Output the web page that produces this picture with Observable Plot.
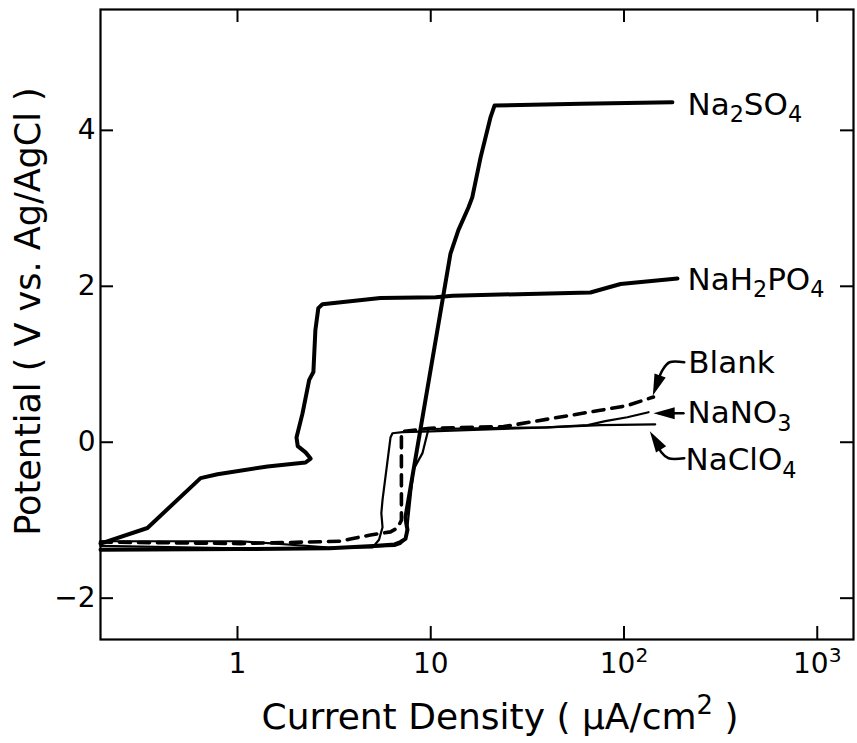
<!DOCTYPE html>
<html>
<head>
<meta charset="utf-8">
<script src="https://cdn.jsdelivr.net/npm/d3@7"></script>
<script src="https://cdn.jsdelivr.net/npm/@observablehq/plot@0.6"></script>
<style>
  body { margin: 0; background: #fff; }
  #chart svg { display: block; }
</style>
</head>
<body>
<div id="chart"></div>
<script>
// Anodic polarization curves: current density (µA/cm²) vs potential (V vs. Ag/AgCl)

const na2so4Current   = [0.1955, 1.0, 3.0, 5.05, 6.5, 6.97, 7.4, 7.58, 7.48, 7.40, 12.65, 13.9, 15.67, 16.4, 18.1, 20.4, 21.4, 60, 178];
const na2so4Potential = [-1.38, -1.37, -1.36, -1.33, -1.31, -1.28, -1.24, -1.12, -1.05, -0.96, 2.42, 2.72, 3.01, 3.14, 3.65, 4.17, 4.32, 4.34, 4.36];

const nah2po4Current   = [0.1955, 0.342, 0.644, 0.788, 1.43, 2.25, 2.39, 2.25, 2.05, 2.02, 2.17, 2.35, 2.47, 2.53, 2.62, 2.75, 5.49, 10.6, 13.0, 67, 96, 189];
const nah2po4Potential = [-1.30, -1.10, -0.46, -0.41, -0.31, -0.26, -0.21, -0.13, -0.05, 0.06, 0.37, 0.80, 0.90, 1.44, 1.72, 1.77, 1.85, 1.86, 1.88, 1.92, 2.03, 2.10];

const blankCurrent   = [0.1955, 1.04, 3.41, 3.84, 4.88, 6.19, 6.73, 7.05, 7.05, 7.3, 9.96, 23.8, 32.8, 48.6, 75.5, 104, 142];
const blankPotential = [-1.28, -1.30, -1.27, -1.24, -1.19, -1.15, -1.10, -1.0, 0.13, 0.14, 0.18, 0.20, 0.26, 0.33, 0.41, 0.47, 0.58];

const nano3Current   = [0.1955, 1.0, 3.0, 6.5, 7.0, 7.4, 7.6, 8.14, 9.06, 9.73, 40, 65, 80, 104, 134];
const nano3Potential = [-1.33, -1.36, -1.36, -1.33, -1.30, -1.24, -1.05, -0.35, -0.14, 0.17, 0.19, 0.22, 0.27, 0.32, 0.385];

const naclo4Current   = [0.1955, 1.04, 3.0, 5.0, 5.4, 5.63, 5.55, 5.63, 6.19, 6.34, 7.14, 9.96, 40, 75.5, 145];
const naclo4Potential = [-1.27, -1.27, -1.35, -1.35, -1.25, -1.09, -0.91, -0.74, 0.06, 0.115, 0.13, 0.14, 0.19, 0.22, 0.23];

// Curve labels and their anchor points
const labelNames     = ["Na₂SO₄", "NaH₂PO₄", "Blank", "NaNO₃", "NaClO₄"];
const labelCurrent   = [213, 213, 215, 213, 208];
const labelPotential = [4.33, 2.08, 1.01, 0.37, -0.23];

// Leader lines from labels to curve ends
const blankLeaderCurrent    = [205, 172, 158, 149, 145];
const blankLeaderPotential  = [1.026, 1.026, 0.923, 0.769, 0.68];
const nano3LeaderCurrent    = [203, 152];
const nano3LeaderPotential  = [0.372, 0.372];
const naclo4LeaderCurrent   = [205, 170, 156, 146, 142];
const naclo4LeaderPotential = [-0.205, -0.205, -0.128, 0.026, 0.07];

const tipCurrent   = [141, 142, 136];
const tipPotential = [0.60, 0.372, 0.14];
const tipAngle     = [200, -90, -32];

// Axis ticks
const xTicks = [1, 10, 100, 1000];
const xTickLabels = ["1", "10", "10²", "10³"];
const yTicks = [-2, 0, 2, 4];

const rows = (xs, ys) => xs.map((x, i) => ({x, y: ys[i]}));

const W = 857, H = 743;
const mL = 100, mR = 4, mT = 9, mB = 104;
const plotW = W - mL - mR, plotH = H - mT - mB;
const tickLen = 13;

// Filled, slightly elongated arrowhead with its tip at the origin
const arrowHead = {
  draw(context, size) {
    const s = Math.sqrt(size);
    context.moveTo(0, 0);
    context.lineTo(0.42 * s, 1.5 * s);
    context.lineTo(-0.42 * s, 1.5 * s);
    context.closePath();
  }
};

const chart = Plot.plot({
  width: W,
  height: H,
  marginLeft: mL,
  marginRight: mR,
  marginTop: mT,
  marginBottom: mB,
  style: {fontFamily: "DejaVu Sans", background: "#fff", color: "#000"},
  x: {type: "log", domain: [0.1955, 1540]},
  y: {domain: [-2.53, 5.55]},
  marks: [
    Plot.frame({strokeWidth: 2.2}),
    // inward ticks on all four sides
    Plot.tickX(xTicks, {x: d => d, insetTop: plotH - tickLen, strokeWidth: 2}),
    Plot.tickX(xTicks, {x: d => d, insetBottom: plotH - tickLen, strokeWidth: 2}),
    Plot.tickY(yTicks, {y: d => d, insetRight: plotW - tickLen, strokeWidth: 2}),
    Plot.tickY(yTicks, {y: d => d, insetLeft: plotW - tickLen, strokeWidth: 2}),
    Plot.axisX({ticks: xTicks, tickSize: 0, tickPadding: 14, fontSize: 28,
      tickFormat: d => xTickLabels[xTicks.indexOf(d)], label: null}),
    Plot.axisY({ticks: yTicks, tickSize: 0, tickPadding: 5, fontSize: 28, label: null}),
    // axis titles
    Plot.text(["Current Density ( µA/cm² )"], {frameAnchor: "bottom", dx: 23, dy: 78, fontSize: 36, lineAnchor: "middle", textAnchor: "middle"}),
    Plot.text(["Potential ( V vs. Ag/AgCl )"], {frameAnchor: "left", rotate: -90, dx: -72, dy: -13, fontSize: 35, lineAnchor: "middle", textAnchor: "middle"}),
    // curves
    Plot.line(rows(na2so4Current, na2so4Potential), {x: "x", y: "y", stroke: "#000", strokeWidth: 4, strokeLinejoin: "round"}),
    Plot.line(rows(nah2po4Current, nah2po4Potential), {x: "x", y: "y", stroke: "#000", strokeWidth: 4, strokeLinejoin: "round"}),
    Plot.line(rows(blankCurrent, blankPotential), {x: "x", y: "y", stroke: "#000", strokeWidth: 3.6, strokeDasharray: "11,8"}),
    Plot.line(rows(nano3Current, nano3Potential), {x: "x", y: "y", stroke: "#000", strokeWidth: 2.2}),
    Plot.line(rows(naclo4Current, naclo4Potential), {x: "x", y: "y", stroke: "#000", strokeWidth: 2.2}),
    // labels with leaders
    Plot.line(rows(blankLeaderCurrent, blankLeaderPotential), {x: "x", y: "y", stroke: "#000", strokeWidth: 2.5, curve: "catmull-rom"}),
    Plot.line(rows(nano3LeaderCurrent, nano3LeaderPotential), {x: "x", y: "y", stroke: "#000", strokeWidth: 2.5}),
    Plot.line(rows(naclo4LeaderCurrent, naclo4LeaderPotential), {x: "x", y: "y", stroke: "#000", strokeWidth: 2.5, curve: "catmull-rom"}),
    Plot.dot(tipCurrent.map((x, i) => ({x, y: tipPotential[i], a: tipAngle[i]})),
      {x: "x", y: "y", rotate: "a", symbol: arrowHead, r: 8, fill: "#000", stroke: "none"}),
    Plot.text(labelNames.map((t, i) => ({t, x: labelCurrent[i], y: labelPotential[i]})),
      {x: "x", y: "y", text: "t", textAnchor: "start", lineAnchor: "middle", fontSize: 31})
  ]
});

document.getElementById("chart").append(chart);

// Typeset sub- and superscript digits as shifted, smaller tspans
const subDigits = {"₂": "2", "₃": "3", "₄": "4"};
const supDigits = {"²": "2", "³": "3"};
d3.select(chart).selectAll("text").each(function() {
  const s = this.textContent;
  const chars = [...s];
  if (!chars.some(c => c in subDigits || c in supDigits)) return;
  const fs = parseFloat(getComputedStyle(this).fontSize) || 28;
  const runs = [];
  for (const c of chars) {
    const kind = c in subDigits ? "sub" : c in supDigits ? "sup" : "normal";
    const ch = subDigits[c] ?? supDigits[c] ?? c;
    if (runs.length && runs[runs.length - 1].kind === kind) runs[runs.length - 1].text += ch;
    else runs.push({kind, text: ch});
  }
  const el = d3.select(this);
  el.text(null);
  let shift = 0;
  for (const r of runs) {
    const target = r.kind === "sub" ? 0.24 * fs : r.kind === "sup" ? -0.42 * fs : 0;
    const t = el.append("tspan").text(r.text).attr("dy", (target - shift).toFixed(2));
    if (r.kind !== "normal") t.attr("font-size", (0.72 * fs).toFixed(1));
    shift = target;
  }
});
</script>
</body>
</html>
